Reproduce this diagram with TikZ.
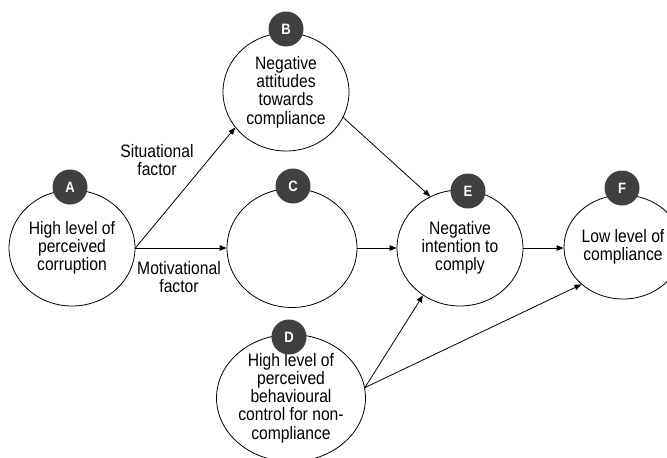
\documentclass[tikz,border=0pt]{standalone}
\usepackage{fontspec}
\setmainfont{Liberation Sans}[FakeStretch=0.87]
\usetikzlibrary{shapes.geometric,arrows.meta}
\definecolor{badgegray}{HTML}{404040}
\begin{document}
\begin{tikzpicture}[x=1pt,y=-1pt,
  stage/.style={draw, ellipse, line width=0.8pt, minimum width=#1, inner sep=0pt, align=center,
    font=\fontsize{18}{18.3}\selectfont},
  badge/.style={circle, fill=badgegray, minimum size=35pt, inner sep=0pt, text=white,
    font=\fontsize{15}{15}\selectfont\bfseries},
  arr/.style={line width=0.8pt, -{Triangle[length=7pt,width=5.5pt]}},
  lbl/.style={align=center, inner sep=0pt, font=\fontsize{18}{17.5}\selectfont}]
\useasboundingbox (0,0) rectangle (667,458);
\clip (0,0) rectangle (667,458);
% stages
\node[stage=126pt, minimum height=116pt] (A) at (72,248) {High level of\\perceived\\corruption};
\node[stage=126pt, minimum height=118pt] (B) at (286,92) {Negative\\attitudes\\towards\\compliance};
\node[stage=130pt, minimum height=119pt] (C) at (292,248) {};
\node[stage=135pt, minimum height=120pt] (D) at (291,398) {High level of\\perceived\\behavioural\\control for non-\\compliance};
\node[stage=126pt, minimum height=116pt] (E) at (460,248) {Negative\\intention to\\comply};
\node[stage=118pt, minimum height=104pt] (F) at (623,247) {Low level of\\compliance};
% badges
\node[badge] (bA) at (70,187) {A};
\node[badge] (bB) at (286,29) {B};
\node[badge] (bC) at (293,186) {C};
\node[badge] (bD) at (289,337) {D};
\node[badge] (bE) at (468,191) {E};
\node[badge] (bF) at (622,188) {F};
% arrows
\draw[arr] (A.east) -- (B.215);
\draw[arr] (A.east) -- (C.west);
\draw[arr] (C.east) -- (E.west);
\draw[arr] (B.-24) -- (E.120);
\draw[arr] (E.east) -- (E.east -| F.west);
\draw[arr] (D.8) -- (E.232);
\draw[arr] (D.8) -- (F.222);
% labels
\node[lbl] (ls) at (157,160) {Situational\\factor};
\node[lbl] (lm) at (179,277) {Motivational\\factor};
\end{tikzpicture}
\end{document}
